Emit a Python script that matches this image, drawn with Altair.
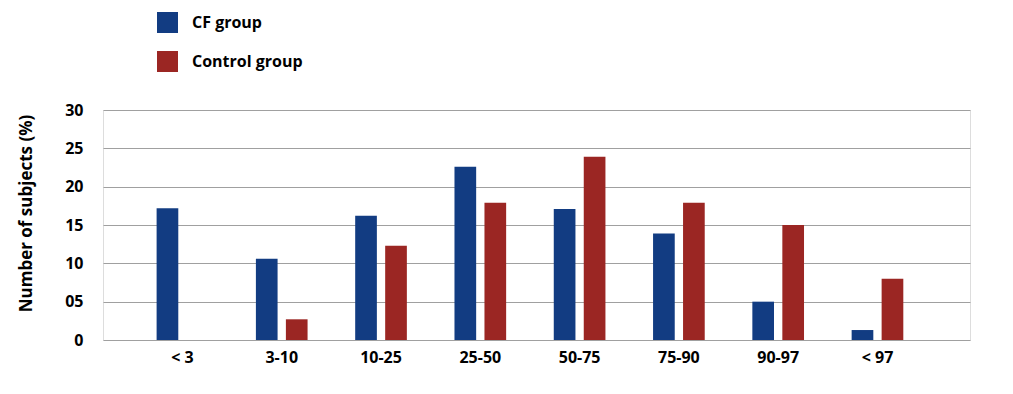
import altair as alt
import pandas as pd

categories = ["< 3", "3-10", "10-25", "25-50", "50-75", "75-90", "90-97", "< 97"]
cf_values = [17.2, 10.6, 16.2, 22.6, 17.1, 13.9, 5.0, 1.3]
control_values = [0.0, 2.7, 12.3, 17.9, 23.9, 17.9, 15.0, 8.0]
groups = ["CF group", "Control group"]
colors = ["#123c82", "#9b2623"]
y_ticks = [0, 5, 10, 15, 20, 25, 30]

rows = []
for i, c in enumerate(categories):
    rows.append({"cat": c, "group": groups[0], "value": cf_values[i], "order": 0})
    rows.append({"cat": c, "group": groups[1], "value": control_values[i], "order": 1})
df = pd.DataFrame(rows)

FONT = "Open Sans"

chart = alt.Chart(df).mark_bar().encode(
    x=alt.X("cat:N", sort=categories,
            scale=alt.Scale(paddingInner=0, paddingOuter=0.366, align=0.41),
            axis=alt.Axis(title=None, labelAngle=0, labelFontSize=16, labelFontWeight="bold",
                          labelFont=FONT, labelColor="#000000", labelPadding=9,
                          ticks=False, domain=False, grid=False)),
    xOffset=alt.XOffset("group:N", sort=groups,
                        scale=alt.Scale(paddingInner=0.277, paddingOuter=0.794)),
    y=alt.Y("value:Q", scale=alt.Scale(domain=[0, 30], nice=False),
            axis=alt.Axis(values=y_ticks, title="Number of subjects (%)",
                          labelExpr="datum.value == 5 ? '05' : datum.label",
                          labelFontSize=16, labelFontWeight="bold", labelFont=FONT,
                          labelColor="#000000", labelPadding=20,
                          titleFontSize=17, titleFontWeight="bold", titleFont=FONT,
                          titleColor="#000000", titleX=-72, titleY=103, titleAngle=270,
                          titleAlign="center", titleBaseline="alphabetic",
                          ticks=False, domain=False, grid=True,
                          gridColor="#a0a0a0", gridWidth=1.2)),
    color=alt.Color("group:N", sort=groups,
                    scale=alt.Scale(domain=groups, range=colors),
                    legend=alt.Legend(title=None, orient="none", legendX=54, legendY=-98,
                                      direction="vertical", symbolType="square",
                                      symbolSize=441, symbolStrokeWidth=0,
                                      labelFontSize=16, labelFontWeight="bold",
                                      labelFont=FONT, labelColor="#000000",
                                      labelOffset=14, rowPadding=18, padding=0)),
    order=alt.Order("order:Q"),
).properties(
    width=867,
    height=230,
    autosize=alt.AutoSizeParams(type="none"),
    padding={"left": 95, "top": 102, "right": 20, "bottom": 40},
).configure_view(stroke=None).configure(background="#ffffff")

chart.save("out.html", embed_options={"renderer": "svg", "actions": False})
